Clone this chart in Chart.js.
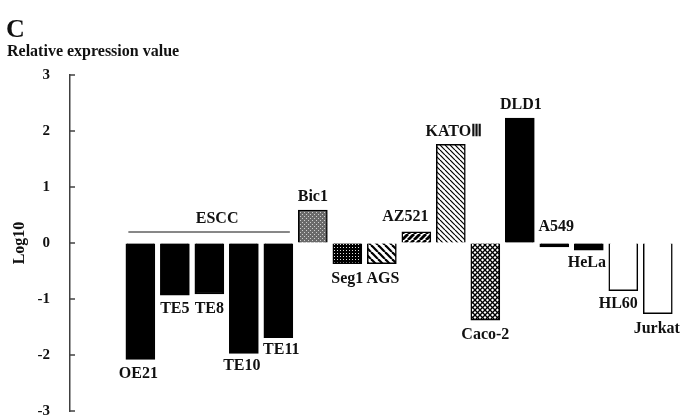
<!DOCTYPE html>
<html>
<head>
<meta charset="utf-8">
<script src="https://cdn.jsdelivr.net/npm/chart.js@4.4.1/dist/chart.umd.min.js"></script>
<style>
html, body { margin: 0; padding: 0; background: #fff; }
#wrap { width: 688px; height: 418px; position: relative; }
</style>
</head>
<body>
<div id="wrap"><canvas id="main-chart"></canvas></div>
<script>
// data
var cellLines = ["OE21", "TE5", "TE8", "TE10", "TE11", "Bic1", "Seg1", "AGS", "AZ521", "KATO\u2162", "Caco-2", "DLD1", "A549", "HeLa", "HL60", "Jurkat"];
var log10Values = [-2.08, -0.93, -0.91, -1.97, -1.69, 0.59, -0.37, -0.37, 0.20, 1.76, -1.38, 2.23, -0.07, -0.13, -0.85, -1.26];
var yTicks = [-3, -2, -1, 0, 1, 2, 3];
var groupName = "ESCC";
var groupMembers = ["OE21", "TE5", "TE8", "TE10", "TE11"];

// look of each bar
var fillKind = ["black", "black", "black", "black", "black", "grayDots", "blackDots", "wideBack", "thickFwd", "fineBack", "cross", "black", "black", "black", "white", "white"];
// label nudges in px (from bar end)
var labelDx = [-2, 0, 0, -2, 3, 0, 0, 1, -11, 3, 0, 1, 2, -2, -5, -1];
var labelDy = [14, 14, 15, 13, 12, -13, 15, 15, -15, -13, 15, -13, -20, 13, 13, 15];

var serif = '"Liberation Serif", "Times New Roman", serif';

function makePattern(size, draw) {
    var c = document.createElement('canvas');
    c.width = size; c.height = size;
    var g = c.getContext('2d');
    draw(g, size);
    return g.createPattern(c, 'repeat');
}

function stripes(size, width, back) {
    return makePattern(size, function (g, s) {
        g.fillStyle = '#fff';
        g.fillRect(0, 0, s, s);
        g.strokeStyle = '#000';
        g.lineWidth = width;
        for (var k = -1; k <= 1; k++) {
            g.beginPath();
            if (back) { g.moveTo(k * s, 0); g.lineTo(k * s + s, s); }
            else { g.moveTo(k * s, s); g.lineTo(k * s + s, 0); }
            g.stroke();
        }
    });
}

var fills = {
    black: '#000',
    white: '#fff',
    grayDots: makePattern(4, function (g, s) {
        g.fillStyle = '#6a6a6a'; g.fillRect(0, 0, s, s);
        g.fillStyle = '#cfcfcf'; g.fillRect(0, 0, 1, 1); g.fillRect(2, 2, 1, 1);
    }),
    blackDots: makePattern(3, function (g, s) {
        g.fillStyle = '#000'; g.fillRect(0, 0, s, s);
        g.fillStyle = '#e0e0e0'; g.fillRect(1, 1, 1, 1);
    }),
    wideBack: stripes(7, 2.2, true),
    thickFwd: stripes(6, 2.8, false),
    fineBack: stripes(5, 1.2, true),
    cross: makePattern(5, function (g, s) {
        g.fillStyle = '#fff'; g.fillRect(0, 0, s, s);
        g.strokeStyle = '#000'; g.lineWidth = 1.3;
        for (var k = -1; k <= 1; k++) {
            g.beginPath(); g.moveTo(k * s, 0); g.lineTo(k * s + s, s); g.stroke();
            g.beginPath(); g.moveTo(k * s, s); g.lineTo(k * s + s, 0); g.stroke();
        }
    })
};

var annotate = {
    id: 'annotate',
    afterDatasetsDraw: function (chart) {
        var ctx = chart.ctx, x = chart.scales.x, y = chart.scales.y, area = chart.chartArea;
        ctx.save();
        // ticks pointing into the plot
        ctx.strokeStyle = '#404040';
        ctx.lineWidth = 1.5;
        yTicks.forEach(function (t) {
            var py = y.getPixelForValue(t);
            ctx.beginPath(); ctx.moveTo(area.left, py); ctx.lineTo(area.left + 5, py); ctx.stroke();
        });

        ctx.fillStyle = '#111';
        ctx.font = 'bold 16px ' + serif;
        ctx.textAlign = 'center';
        ctx.textBaseline = 'middle';
        cellLines.forEach(function (name, i) {
            ctx.fillText(name, x.getPixelForValue(i) + labelDx[i], y.getPixelForValue(log10Values[i]) + labelDy[i]);
        });

        // group bracket
        var first = cellLines.indexOf(groupMembers[0]);
        var last = cellLines.indexOf(groupMembers[groupMembers.length - 1]);
        var y0 = y.getPixelForValue(0);
        var x1 = x.getPixelForValue(first) - 12, x2 = x.getPixelForValue(last) + 11.5;
        ctx.strokeStyle = '#111';
        ctx.lineWidth = 1;
        ctx.beginPath(); ctx.moveTo(x1, y0 - 11); ctx.lineTo(x2, y0 - 11); ctx.stroke();
        ctx.fillText(groupName, (x1 + x2) / 2 + 8, y0 - 24);

        ctx.textAlign = 'left';
        ctx.textBaseline = 'alphabetic';
        ctx.font = 'bold 26px ' + serif;
        ctx.fillText('C', 6, 37);
        ctx.font = 'bold 16px ' + serif;
        ctx.fillText('Relative expression value', 7, 56);
        ctx.restore();
    }
};

var myChart = new Chart(document.querySelector('#main-chart').getContext('2d'), {
    type: 'bar',
    data: {
        datasets: [{
            data: log10Values.map(function (v, i) { return { x: i, y: v }; }),
            backgroundColor: fillKind.map(function (k) { return fills[k]; }),
            borderColor: '#000',
            borderWidth: 1.5,
            barThickness: 29
        }]
    },
    options: {
        responsive: true,
        maintainAspectRatio: false,
        animation: false,
        layout: { padding: { top: 75, right: 14, bottom: 7, left: 0 } },
        plugins: { legend: { display: false }, tooltip: { enabled: false } },
        scales: {
            x: { type: 'linear', display: false, offset: false, min: -2.04, max: 15.47 },
            y: {
                min: -3, max: 3,
                afterFit: function (scale) {
                    scale.width = 70;
                    scale.paddingTop = 0;
                    scale.paddingBottom = 0;
                },
                ticks: { stepSize: 1, padding: 20, color: '#111', font: { family: serif, size: 15, weight: 'bold' } },
                grid: { drawOnChartArea: false, drawTicks: false },
                border: { color: '#404040', width: 1.5 },
                title: { display: true, text: 'Log10', color: '#111', padding: { top: 10, bottom: 0 }, font: { family: serif, size: 16, weight: 'bold' } }
            }
        }
    },
    plugins: [annotate]
});
</script>
</body>
</html>
